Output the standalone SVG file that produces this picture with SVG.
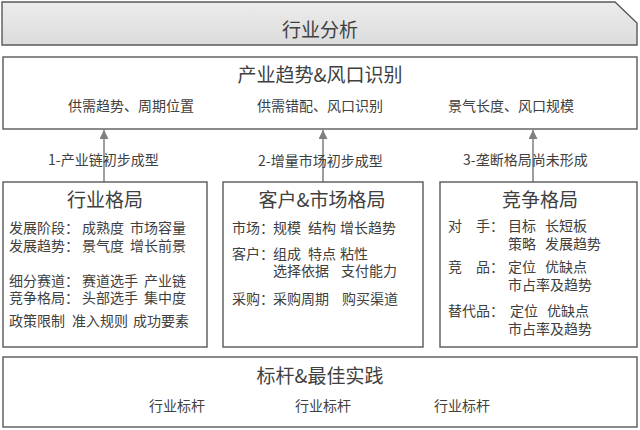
<svg xmlns="http://www.w3.org/2000/svg" width="640" height="430" viewBox="0 0 640 430">
<defs>
<linearGradient id="gBanner" x1="0" y1="0" x2="0" y2="1">
<stop offset="0" stop-color="#ececec"/>
<stop offset="1" stop-color="#dcdcdc"/>
</linearGradient>
<marker id="arr" viewBox="0 0 8 8" refX="8" refY="4" markerWidth="6" markerHeight="6" orient="auto">
<path d="M0,0 L8,4 L0,8 z" fill="#7f7f7f"/>
</marker>
<style>
text{font-family:"Noto Sans CJK SC","Noto Sans",sans-serif;fill:#404040;dominant-baseline:central}
.box{fill:#ffffff;stroke:#595959;stroke-width:1.4}
.t19{font-size:19px;text-anchor:middle}
.t14{font-size:14px}
.c{text-anchor:middle}
.conn{stroke:#7f7f7f;stroke-width:1.5;fill:none}
</style>
</defs>
<rect width="640" height="430" fill="#ffffff"/>

<g id="banner">
<path d="M2,2 L615,2 L637,23 L637,45 L2,45 Z" fill="url(#gBanner)" stroke="#595959" stroke-width="1.4"/>
<text class="t19" x="320" y="28">行业分析</text>
</g>

<g id="trend">
<rect class="box" x="3" y="57" width="634" height="72"/>
<text class="t19" x="320" y="73">产业趋势&amp;风口识别</text>
<text class="t14 c" x="131" y="105">供需趋势、周期位置</text>
<text class="t14 c" x="320" y="105">供需错配、风口识别</text>
<text class="t14 c" x="511" y="105">景气长度、风口规模</text>
</g>

<g id="connectors">
<line class="conn" x1="104" y1="182" x2="104" y2="130" marker-end="url(#arr)"/>
<line class="conn" x1="323" y1="182" x2="323" y2="130" marker-end="url(#arr)"/>
<line class="conn" x1="533" y1="182" x2="533" y2="130" marker-end="url(#arr)"/>
<text class="t14" x="48" y="159">1-产业链初步成型</text>
<text class="t14" x="258" y="160">2-增量市场初步成型</text>
<text class="t14" x="463" y="159">3-垄断格局尚未形成</text>
</g>

<g id="industry">
<rect class="box" x="3" y="182" width="204" height="165"/>
<text class="t19" x="105" y="198">行业格局</text>
<text class="t14" y="227"><tspan x="9">发展阶段：</tspan><tspan x="82">成熟度</tspan><tspan x="130">市场容量</tspan></text>
<text class="t14" y="245"><tspan x="9">发展趋势：</tspan><tspan x="82">景气度</tspan><tspan x="130">增长前景</tspan></text>
<text class="t14" y="280"><tspan x="9">细分赛道：</tspan><tspan x="82">赛道选手</tspan><tspan x="144">产业链</tspan></text>
<text class="t14" y="297"><tspan x="9">竞争格局：</tspan><tspan x="82">头部选手</tspan><tspan x="144">集中度</tspan></text>
<text class="t14" y="320"><tspan x="9">政策限制</tspan><tspan x="72">准入规则</tspan><tspan x="133">成功要素</tspan></text>
</g>

<g id="market">
<rect class="box" x="223" y="182" width="200" height="165"/>
<text class="t19" x="322" y="198">客户&amp;市场格局</text>
<text class="t14" y="227"><tspan x="232">市场：</tspan><tspan x="273">规模</tspan><tspan x="308">结构</tspan><tspan x="340">增长趋势</tspan></text>
<text class="t14" y="253"><tspan x="232">客户：</tspan><tspan x="273">组成</tspan><tspan x="308">特点</tspan><tspan x="340">粘性</tspan></text>
<text class="t14" y="270"><tspan x="273">选择依据</tspan><tspan x="341">支付能力</tspan></text>
<text class="t14" y="298"><tspan x="232">采购：</tspan><tspan x="273">采购周期</tspan><tspan x="342">购买渠道</tspan></text>
</g>

<g id="competition">
<rect class="box" x="440" y="182" width="197" height="165"/>
<text class="t19" x="540" y="198">竞争格局</text>
<text class="t14" y="225"><tspan x="448">对</tspan><tspan x="476">手：</tspan><tspan x="508">目标</tspan><tspan x="545">长短板</tspan></text>
<text class="t14" y="243"><tspan x="508">策略</tspan><tspan x="545">发展趋势</tspan></text>
<text class="t14" y="266"><tspan x="448">竞</tspan><tspan x="476">品：</tspan><tspan x="508">定位</tspan><tspan x="545">优缺点</tspan></text>
<text class="t14" y="284"><tspan x="508">市占率及趋势</tspan></text>
<text class="t14" y="310"><tspan x="448">替代品：</tspan><tspan x="510">定位</tspan><tspan x="547">优缺点</tspan></text>
<text class="t14" y="328"><tspan x="508">市占率及趋势</tspan></text>
</g>

<g id="benchmark">
<rect class="box" x="3" y="357" width="634" height="70"/>
<text class="t19" x="320" y="374">标杆&amp;最佳实践</text>
<text class="t14 c" x="177" y="405">行业标杆</text>
<text class="t14 c" x="323" y="405">行业标杆</text>
<text class="t14 c" x="462" y="405">行业标杆</text>
</g>
</svg>
